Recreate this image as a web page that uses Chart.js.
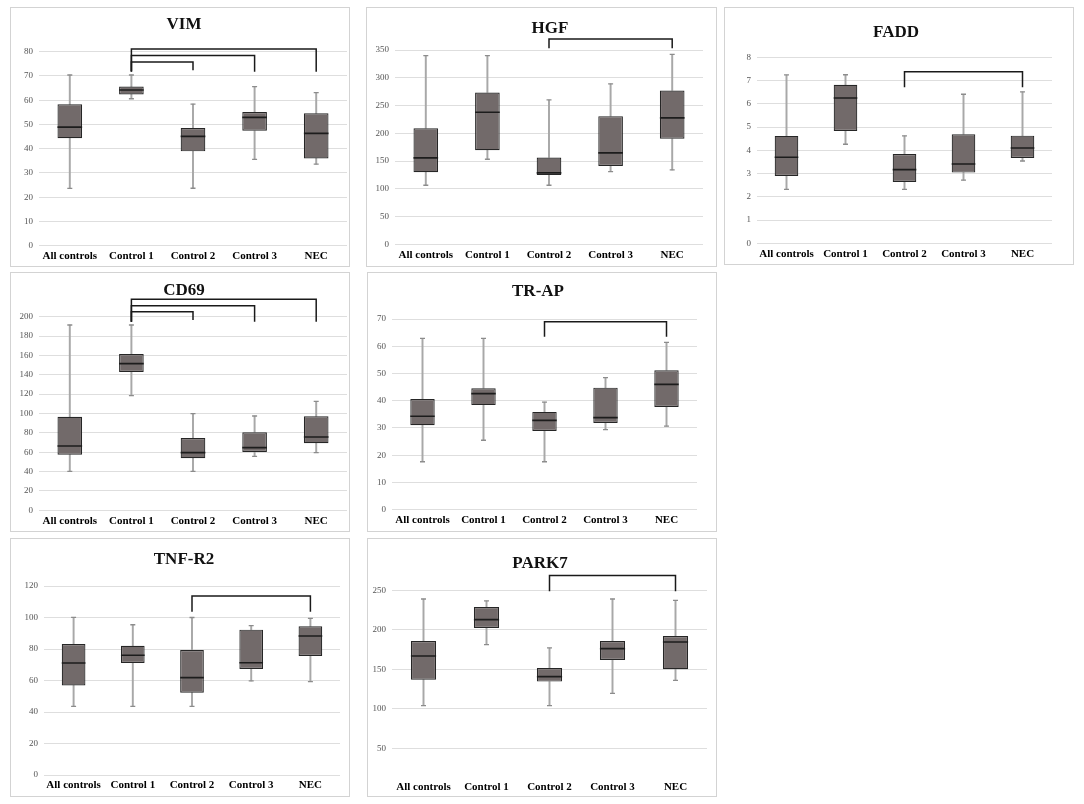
<!DOCTYPE html>
<html><head><meta charset="utf-8">
<script src="https://cdn.jsdelivr.net/npm/chart.js@4.4.1/dist/chart.umd.min.js"></script>
<style>
html,body{margin:0;padding:0;background:#fff;width:1084px;height:804px;overflow:hidden;}
.panel{position:absolute;border:1px solid #d3d3d3;box-sizing:border-box;background:#fff;}
.panel canvas{position:absolute;left:0;top:0;}
.ttl{position:absolute;font-family:"Liberation Serif","Times New Roman",serif;font-weight:bold;font-size:17px;line-height:normal;transform:translate(-50%,-50%);white-space:nowrap;color:#111;}
</style></head><body>
<script>
// ---------- data ----------
const categories = ['All controls', 'Control 1', 'Control 2', 'Control 3', 'NEC'];

const vimMin    = [23.6, 60.6, 23.7, 35.6, 33.6];
const vimQ1     = [44.3, 62.4, 38.9, 47.4, 36.0];
const vimMedian = [48.9, 64.2, 45.1, 52.9, 46.3];
const vimQ3     = [58.3, 65.6, 48.5, 55.1, 54.6];
const vimMax    = [70.4, 70.4, 58.4, 65.6, 63.1];
const vimBrackets = [['Control 1', 'Control 2', 75.8, 71.8, 72.4], ['Control 1', 'Control 3', 78.4, 71.8, 71.7], ['Control 1', 'NEC', 81.1, 71.8, 71.7]];

const hgfMin    = [106.4, 153.2, 106.4, 131, 134];
const hgfQ1     = [129.8, 169.5, 125, 141.2, 190];
const hgfMedian = [155.6, 238, 128.6, 164.7, 227.8];
const hgfQ3     = [209, 273.4, 156.3, 230.8, 277];
const hgfMax    = [340, 340, 260, 289, 342];
const hgfBrackets = [['Control 2', 'NEC', 370, 353, 353]];

const faddMin    = [2.32, 4.26, 2.32, 2.72, 3.54];
const faddQ1     = [2.90, 4.83, 2.64, 3.04, 3.67];
const faddMedian = [3.70, 6.25, 3.17, 3.41, 4.10];
const faddQ3     = [4.62, 6.82, 3.84, 4.69, 4.63];
const faddMax    = [7.24, 7.25, 4.62, 6.41, 6.51];
const faddBrackets = [['Control 2', 'NEC', 7.38, 6.71, 6.71]];

const cd69Min    = [40.3, 118.4, 40.3, 55.8, 59.6];
const cd69Q1     = [57.5, 142.9, 53.7, 60.2, 69.2];
const cd69Median = [66.4, 151.5, 59.6, 64.7, 75.7];
const cd69Q3     = [96.7, 161.4, 74.7, 80.6, 97.1];
const cd69Max    = [191.4, 191.4, 99.8, 97.4, 112.6];
const cd69Brackets = [['Control 1', 'Control 2', 205.2, 194.8, 196.6], ['Control 1', 'Control 3', 211.4, 194.8, 194.8], ['Control 1', 'NEC', 217.9, 194.8, 194.8]];

const trapMin    = [17.6, 25.5, 17.6, 29.4, 30.7];
const trapQ1     = [31.0, 38.4, 28.9, 31.8, 37.7];
const trapMedian = [34.3, 42.6, 32.8, 33.8, 46.0];
const trapQ3     = [40.6, 44.6, 35.9, 44.8, 51.2];
const trapMax    = [62.9, 62.9, 39.5, 48.5, 61.4];
const trapBrackets = [['Control 2', 'NEC', 69.0, 63.5, 63.5]];

const tnfMin    = [43.6, 43.6, 43.6, 59.7, 59.3];
const tnfQ1     = [56.9, 71.1, 52.3, 67.3, 75.6];
const tnfMedian = [71.1, 76.0, 61.8, 71.3, 88.3];
const tnfQ3     = [83.2, 82.1, 79.4, 92.3, 94.4];
const tnfMax    = [100.1, 95.4, 100, 94.8, 99.5];
const tnfBrackets = [['Control 2', 'NEC', 113.7, 103.7, 103.7]];

const park7Min    = [104, 181.2, 104, 119.6, 136];
const park7Q1     = [136.9, 202.3, 134.4, 161.8, 150];
const park7Median = [166.9, 212.9, 140.7, 176.2, 184.6];
const park7Q3     = [185.9, 228.9, 151.7, 185.9, 192.2];
const park7Max    = [239, 236.5, 177, 239, 237.3];
const park7Brackets = [['Control 2', 'NEC', 268.6, 248.7, 248.7]];

const panelTitles = ['VIM', 'HGF', 'FADD', 'CD69', 'TR-AP', 'TNF-R2', 'PARK7'];
const yAxisMin  = [0, 0, 0, 0, 0, 0, 14];
const yAxisMax  = [80, 350, 8, 200, 70, 120, 250];
const yAxisStep = [10, 50, 1, 20, 10, 20, 50];

// ---------- layout (pixels) ----------
const layouts = [
  {box: [10, 7, 340, 260],   plot: [39, 51.7, 347, 245.7],   title: [184, 24]},
  {box: [366, 7, 351, 260],  plot: [395, 50, 703, 244.3],    title: [550, 28]},
  {box: [724, 7, 350, 258],  plot: [757, 57.3, 1052, 243.3], title: [896, 32]},
  {box: [10, 272, 340, 260], plot: [39, 316.7, 347, 510.3],  title: [184, 290]},
  {box: [367, 272, 350, 260],plot: [392, 319, 697, 509.7],   title: [538, 291]},
  {box: [10, 538, 340, 259], plot: [44, 586, 340, 775],      title: [184, 559]},
  {box: [367, 538, 350, 259],plot: [392, 590.3, 707, 776.7], title: [540, 563]}
];

const panelData = [
  [vimMin, vimQ1, vimMedian, vimQ3, vimMax, vimBrackets],
  [hgfMin, hgfQ1, hgfMedian, hgfQ3, hgfMax, hgfBrackets],
  [faddMin, faddQ1, faddMedian, faddQ3, faddMax, faddBrackets],
  [cd69Min, cd69Q1, cd69Median, cd69Q3, cd69Max, cd69Brackets],
  [trapMin, trapQ1, trapMedian, trapQ3, trapMax, trapBrackets],
  [tnfMin, tnfQ1, tnfMedian, tnfQ3, tnfMax, tnfBrackets],
  [park7Min, park7Q1, park7Median, park7Q3, park7Max, park7Brackets]
];

const BOX_FILL = '#726a6a';
const BOX_LINE = '#262626';
const WHISKER = '#a8a8a8';
const BOX_FRACTION = 0.4;
const SERIF = '"Liberation Serif", "Times New Roman", serif';

panelTitles.forEach((name, p) => {
  const L = layouts[p];
  const [bx, by, bw, bh] = L.box;
  const [pl, pt, pr, pb] = L.plot;
  const [mins, q1, med, q3, maxs, brackets] = panelData[p];

  const div = document.createElement('div');
  div.className = 'panel';
  div.style.left = bx + 'px'; div.style.top = by + 'px';
  div.style.width = bw + 'px'; div.style.height = bh + 'px';
  document.body.appendChild(div);

  const cw = bw - 2, ch = bh - 2;
  const cv = document.createElement('canvas');
  cv.width = cw; cv.height = ch;
  cv.style.width = cw + 'px'; cv.style.height = ch + 'px';
  div.appendChild(cv);

  const t = document.createElement('div');
  t.className = 'ttl';
  t.textContent = name;
  t.style.left = (L.title[0] - bx - 1) + 'px';
  t.style.top = (L.title[1] - by - 1) + 'px';
  div.appendChild(t);

  const yW = pl - bx - 1;
  const xH = (by + bh - 1) - pb;
  const padTop = pt - by - 1;
  const padRight = (bx + bw - 1) - pr;
  const step = yAxisStep[p];
  const halfBox = (pr - pl) / categories.length * BOX_FRACTION / 2;

  const datasets = [];
  datasets.push({
    type: 'bar', label: 'lower whisker', data: mins.map((m, i) => [m, q1[i]]),
    backgroundColor: WHISKER, borderWidth: 0, barThickness: 1.3, grouped: false, order: 6
  });
  datasets.push({
    type: 'bar', label: 'upper whisker', data: q3.map((v, i) => [v, maxs[i]]),
    backgroundColor: WHISKER, borderWidth: 0, barThickness: 1.3, grouped: false, order: 6
  });
  datasets.push({
    type: 'line', label: 'min cap', data: mins, showLine: false,
    pointStyle: 'line', pointRadius: 2.5, pointBorderColor: '#8c8c8c', pointBorderWidth: 1.3, order: 5
  });
  datasets.push({
    type: 'line', label: 'max cap', data: maxs, showLine: false,
    pointStyle: 'line', pointRadius: 2.5, pointBorderColor: '#8c8c8c', pointBorderWidth: 1.3, order: 5
  });
  datasets.push({
    type: 'bar', label: 'Q1-Q3', data: q1.map((v, i) => [v, q3[i]]),
    backgroundColor: BOX_FILL, borderColor: BOX_LINE, borderWidth: 1.2, borderSkipped: false,
    inflateAmount: 0,
    barPercentage: BOX_FRACTION, categoryPercentage: 1, grouped: false, order: 3
  });
  datasets.push({
    type: 'line', label: 'median', data: med, showLine: false,
    pointStyle: 'line', pointRadius: halfBox, pointBorderColor: '#1c1c1c', pointBorderWidth: 1.6, order: 2
  });
  brackets.forEach((b, k) => {
    datasets.push({
      type: 'line', label: 'bracket ' + k,
      data: [{x: b[0], y: b[3]}, {x: b[0], y: b[2]}, {x: b[1], y: b[2]}, {x: b[1], y: b[4]}],
      borderColor: '#1a1a1a', borderWidth: 1.5, pointRadius: 0, tension: 0, fill: false,
      clip: false, order: 0
    });
  });

  new Chart(cv, {
    type: 'bar',
    data: {labels: categories, datasets},
    options: {
      responsive: false, animation: false, events: [],
      layout: {autoPadding: false, padding: {top: padTop, right: padRight, left: 0, bottom: 0}},
      plugins: {legend: {display: false}, tooltip: {enabled: false}, title: {display: false}},
      scales: {
        x: {
          offset: true,
          grid: {display: false, drawTicks: false},
          border: {display: false},
          ticks: {padding: 4, color: '#000', maxRotation: 0, autoSkip: false,
                  font: {family: SERIF, size: 11, weight: 'bold'}},
          afterFit: (s) => { s.height = xH; }
        },
        y: {
          min: yAxisMin[p], max: yAxisMax[p],
          grid: {color: '#dedede', lineWidth: 1, drawTicks: false},
          border: {display: false},
          ticks: {stepSize: step, padding: 6, color: '#555',
                  font: {family: SERIF, size: 9}},
          afterBuildTicks: (s) => {
            s.ticks = s.ticks.filter(tk => Math.abs(tk.value / step - Math.round(tk.value / step)) < 1e-6);
          },
          afterFit: (s) => { s.width = yW; }
        }
      }
    }
  });
});
</script>
</body></html>
